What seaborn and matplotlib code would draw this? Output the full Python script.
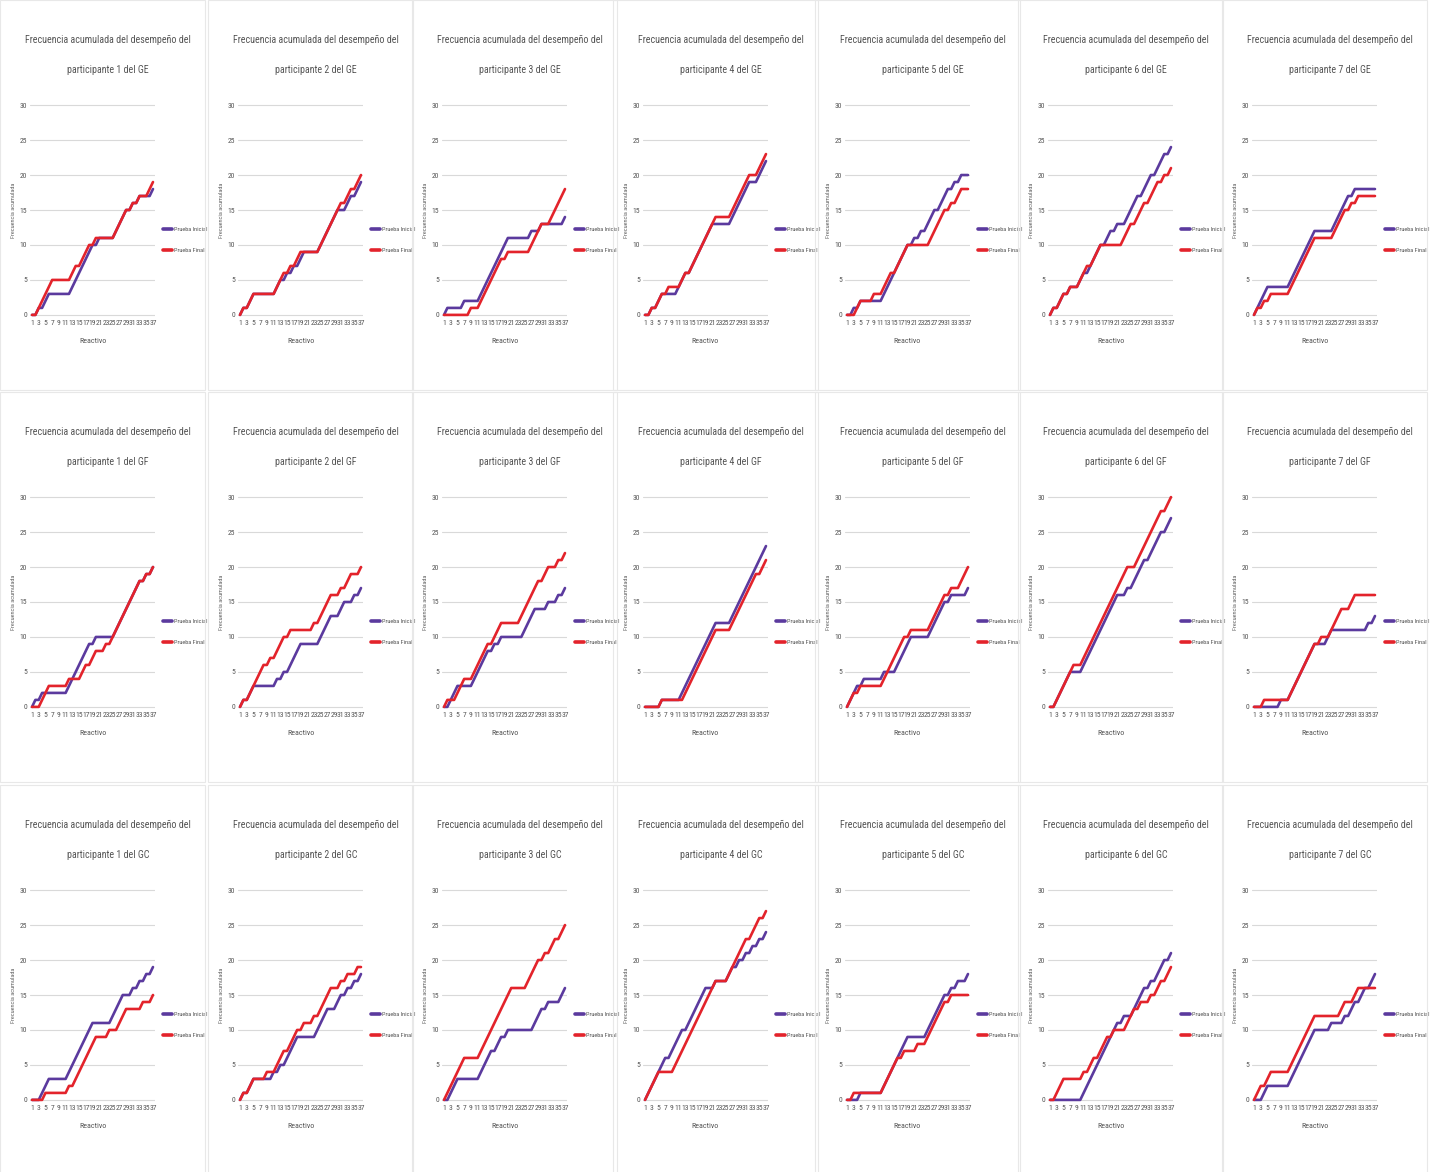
import pandas as pd
import matplotlib
matplotlib.use("Agg")
import matplotlib.pyplot as plt
from matplotlib import font_manager
from matplotlib.lines import Line2D
from matplotlib.patches import Rectangle
import seaborn as sns

## datos: frecuencia acumulada por reactivo (1..37)
reactivos = list(range(1, 38))
etiquetas_x = [str(r) for r in reactivos if r % 2 == 1]
grupos = ["GE", "GF", "GC"]
series_nombres = ["Prueba Inicial", "Prueba Final"]

ge_inicial = [
    [0,0,1,1,2,3,3,3,3,3,3,3,4,5,6,7,8,9,10,10,11,11,11,11,11,12,13,14,15,15,16,16,17,17,17,17,18],
    [0,1,1,2,3,3,3,3,3,3,3,4,5,5,6,6,7,7,8,9,9,9,9,9,10,11,12,13,14,15,15,15,16,17,17,18,19],
    [0,1,1,1,1,1,2,2,2,2,2,3,4,5,6,7,8,9,10,11,11,11,11,11,11,11,12,12,12,13,13,13,13,13,13,13,14],
    [0,0,1,1,2,3,3,3,3,3,4,5,6,6,7,8,9,10,11,12,13,13,13,13,13,13,14,15,16,17,18,19,19,19,20,21,22],
    [0,0,1,1,2,2,2,2,2,2,2,3,4,5,6,7,8,9,10,10,11,11,12,12,13,14,15,15,16,17,18,18,19,19,20,20,20],
    [0,1,1,2,3,3,4,4,4,5,6,6,7,8,9,10,10,11,12,12,13,13,13,14,15,16,17,17,18,19,20,20,21,22,23,23,24],
    [0,1,2,3,4,4,4,4,4,4,4,5,6,7,8,9,10,11,12,12,12,12,12,12,13,14,15,16,17,17,18,18,18,18,18,18,18],
]
ge_final = [
    [0,0,1,2,3,4,5,5,5,5,5,5,6,7,7,8,9,10,10,11,11,11,11,11,11,12,13,14,15,15,16,16,17,17,17,18,19],
    [0,1,1,2,3,3,3,3,3,3,3,4,5,6,6,7,7,8,9,9,9,9,9,9,10,11,12,13,14,15,16,16,17,18,18,19,20],
    [0,0,0,0,0,0,0,0,1,1,1,2,3,4,5,6,7,8,8,9,9,9,9,9,9,9,10,11,12,13,13,13,14,15,16,17,18],
    [0,0,1,1,2,3,3,4,4,4,4,5,6,6,7,8,9,10,11,12,13,14,14,14,14,14,15,16,17,18,19,20,20,20,21,22,23],
    [0,0,0,1,2,2,2,2,3,3,3,4,5,6,6,7,8,9,10,10,10,10,10,10,10,11,12,13,14,15,15,16,16,17,18,18,18],
    [0,1,1,2,3,3,4,4,4,5,6,7,7,8,9,10,10,10,10,10,10,10,11,12,13,13,14,15,16,16,17,18,19,19,20,20,21],
    [0,1,1,2,2,3,3,3,3,3,3,4,5,6,7,8,9,10,11,11,11,11,11,11,12,13,14,15,15,16,16,17,17,17,17,17,17],
]
gf_inicial = [
    [0,1,1,2,2,2,2,2,2,2,2,3,4,5,6,7,8,9,9,10,10,10,10,10,10,11,12,13,14,15,16,17,18,18,19,19,20],
    [0,1,1,2,3,3,3,3,3,3,3,4,4,5,5,6,7,8,9,9,9,9,9,9,10,11,12,13,13,13,14,15,15,15,16,16,17],
    [0,0,1,2,3,3,3,3,3,4,5,6,7,8,8,9,9,10,10,10,10,10,10,10,11,12,13,14,14,14,14,15,15,15,16,16,17],
    [0,0,0,0,0,1,1,1,1,1,1,2,3,4,5,6,7,8,9,10,11,12,12,12,12,12,13,14,15,16,17,18,19,20,21,22,23],
    [0,1,2,3,3,4,4,4,4,4,4,5,5,5,5,6,7,8,9,10,10,10,10,10,10,11,12,13,14,15,15,16,16,16,16,16,17],
    [0,0,1,2,3,4,5,5,5,5,6,7,8,9,10,11,12,13,14,15,16,16,16,17,17,18,19,20,21,21,22,23,24,25,25,26,27],
    [0,0,0,0,0,0,0,0,1,1,1,2,3,4,5,6,7,8,9,9,9,9,10,11,11,11,11,11,11,11,11,11,11,11,12,12,13],
]
gf_final = [
    [0,0,0,1,2,3,3,3,3,3,3,4,4,4,4,5,6,6,7,8,8,8,9,9,10,11,12,13,14,15,16,17,18,18,19,19,20],
    [0,1,1,2,3,4,5,6,6,7,7,8,9,10,10,11,11,11,11,11,11,11,12,12,13,14,15,16,16,16,17,17,18,19,19,19,20],
    [0,1,1,1,2,3,4,4,4,5,6,7,8,9,9,10,11,12,12,12,12,12,12,13,14,15,16,17,18,18,19,20,20,20,21,21,22],
    [0,0,0,0,0,1,1,1,1,1,1,1,2,3,4,5,6,7,8,9,10,11,11,11,11,11,12,13,14,15,16,17,18,19,19,20,21],
    [0,1,2,2,3,3,3,3,3,3,3,4,5,6,7,8,9,10,10,11,11,11,11,11,11,12,13,14,15,16,16,17,17,17,18,19,20],
    [0,0,1,2,3,4,5,6,6,6,7,8,9,10,11,12,13,14,15,16,17,18,19,20,20,20,21,22,23,24,25,26,27,28,28,29,30],
    [0,0,0,1,1,1,1,1,1,1,1,2,3,4,5,6,7,8,9,9,10,10,10,11,12,13,14,14,14,15,16,16,16,16,16,16,16],
]
gc_inicial = [
    [0,0,0,1,2,3,3,3,3,3,3,4,5,6,7,8,9,10,11,11,11,11,11,11,12,13,14,15,15,15,16,16,17,17,18,18,19],
    [0,1,1,2,3,3,3,3,3,3,4,4,5,5,6,7,8,9,9,9,9,9,9,10,11,12,13,13,13,14,15,15,16,16,17,17,18],
    [0,0,1,2,3,3,3,3,3,3,3,4,5,6,7,7,8,9,9,10,10,10,10,10,10,10,10,11,12,13,13,14,14,14,14,15,16],
    [0,1,2,3,4,5,6,6,7,8,9,10,10,11,12,13,14,15,16,16,16,17,17,17,17,18,19,19,20,20,21,21,22,22,23,23,24],
    [0,0,0,0,1,1,1,1,1,1,1,2,3,4,5,6,7,8,9,9,9,9,9,9,10,11,12,13,14,15,15,16,16,17,17,17,18],
    [0,0,0,0,0,0,0,0,0,0,1,2,3,4,5,6,7,8,9,10,11,11,12,12,12,13,14,15,16,16,17,17,18,19,20,20,21],
    [0,0,0,1,2,2,2,2,2,2,2,3,4,5,6,7,8,9,10,10,10,10,10,11,11,11,11,12,12,13,14,14,15,16,16,17,18],
]
gc_final = [
    [0,0,0,0,1,1,1,1,1,1,1,2,2,3,4,5,6,7,8,9,9,9,9,10,10,10,11,12,13,13,13,13,13,14,14,14,15],
    [0,1,1,2,3,3,3,3,4,4,4,5,6,7,7,8,9,10,10,11,11,11,12,12,13,14,15,16,16,16,17,17,18,18,18,19,19],
    [0,1,2,3,4,5,6,6,6,6,6,7,8,9,10,11,12,13,14,15,16,16,16,16,16,17,18,19,20,20,21,21,22,23,23,24,25],
    [0,1,2,3,4,4,4,4,4,5,6,7,8,9,10,11,12,13,14,15,16,17,17,17,17,18,19,20,21,22,23,23,24,25,26,26,27],
    [0,0,1,1,1,1,1,1,1,1,1,2,3,4,5,6,6,7,7,7,7,8,8,8,9,10,11,12,13,14,14,15,15,15,15,15,15],
    [0,0,1,2,3,3,3,3,3,3,4,4,5,6,6,7,8,9,9,10,10,10,10,11,12,13,13,14,14,14,15,15,16,17,17,18,19],
    [0,1,2,2,3,4,4,4,4,4,4,5,6,7,8,9,10,11,12,12,12,12,12,12,12,12,13,14,14,14,15,16,16,16,16,16,16],
]

datos = {
    "GE": (ge_inicial, ge_final),
    "GF": (gf_inicial, gf_final),
    "GC": (gc_inicial, gc_final),
}

colores = {"Prueba Inicial": "#5b3a9e", "Prueba Final": "#e3232b"}

sns.set_theme(style="white")
disponibles = {f.name for f in font_manager.fontManager.ttflist}
narrow = next((f for f in ["Liberation Sans Narrow", "Roboto Condensed", "Open Sans Condensed"]
               if f in disponibles), "Liberation Sans")
plt.rcParams["font.family"] = [narrow, "DejaVu Sans"]

W, H = 1433, 1172
fig = plt.figure(figsize=(W / 100, H / 100), dpi=100)
fig.patch.set_facecolor("white")

col_left = [0, 208, 412, 613, 815, 1018, 1222]
row_top = [0, 392, 785]
panel_w, panel_h = 205, 390

for r, grupo in enumerate(grupos):
    inicial, final = datos[grupo]
    for c in range(7):
        assert len(inicial[c]) == 37 and len(final[c]) == 37
        pl, pt = col_left[c], row_top[r]

        # marco tenue del panel
        fig.add_artist(Rectangle((pl / W, 1 - (pt + panel_h) / H), panel_w / W, panel_h / H,
                                 transform=fig.transFigure, fill=False,
                                 edgecolor="#e8e8e8", linewidth=0.8))

        ax = fig.add_axes([(pl + 30) / W, 1 - (pt + 317) / H, 125 / W, 214 / H])
        df = pd.DataFrame({
            "Reactivo": reactivos * 2,
            "Frecuencia": inicial[c] + final[c],
            "Prueba": ["Prueba Inicial"] * 37 + ["Prueba Final"] * 37,
        })
        sns.lineplot(data=df, x="Reactivo", y="Frecuencia", hue="Prueba",
                     palette=colores, linewidth=1.9, estimator=None, sort=False,
                     legend=False, ax=ax)

        ax.set_xlim(0.4, 37.6)
        ax.set_ylim(-0.3, 30.3)
        ax.set_yticks(range(0, 31, 5))
        ax.set_xticks(range(1, 38, 2))
        ax.set_xticklabels(etiquetas_x)
        ax.tick_params(axis="both", length=0, labelsize=5.5, colors="#555555", pad=2)
        ax.grid(axis="y", color="#d9d9d9", linewidth=0.8)
        for s in ax.spines.values():
            s.set_visible(False)
        ax.set_ylabel("Frecuencia acumulada", fontsize=4.5, color="#666666", labelpad=3)
        ax.set_xlabel("Reactivo", fontsize=5.8, color="#555555", labelpad=9)

        handles = [Line2D([0], [0], color=colores[n], linewidth=2.6) for n in series_nombres]
        ax.legend(handles, series_nombres, loc="center left", bbox_to_anchor=(1.02, 0.36),
                  frameon=False, fontsize=4.5, handlelength=1.4, handletextpad=0.3,
                  labelspacing=2.5, labelcolor="#555555")

        fig.text((pl + 108) / W, 1 - (pt + 40) / H,
                 "Frecuencia acumulada del desempeño del",
                 ha="center", va="center", fontsize=7.2, color="#555555")
        fig.text((pl + 108) / W, 1 - (pt + 70) / H,
                 f"participante {c + 1} del {grupo}",
                 ha="center", va="center", fontsize=7.2, color="#555555")

fig.savefig("out.png", dpi=100, facecolor="white")
